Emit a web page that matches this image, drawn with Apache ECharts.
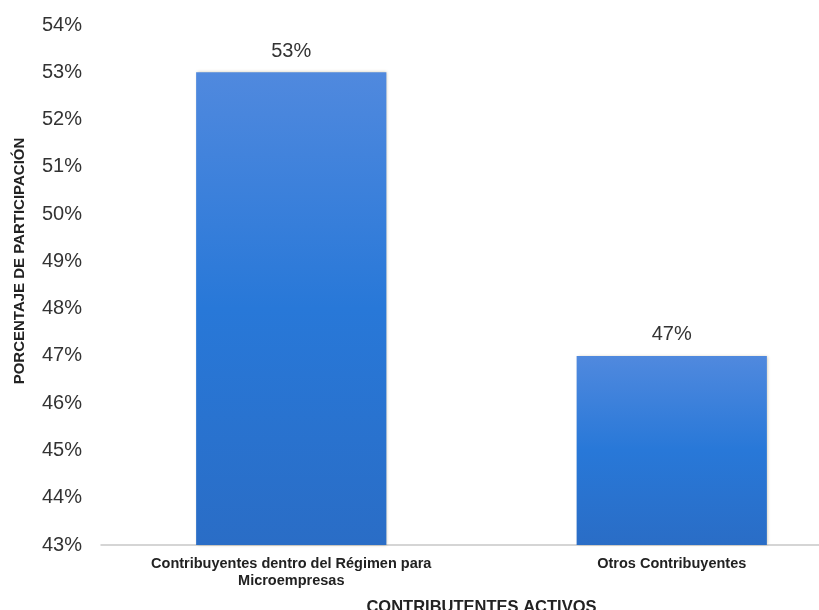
<!DOCTYPE html>
<html>
<head>
<meta charset="utf-8">
<script src="https://cdn.jsdelivr.net/npm/echarts@6/dist/echarts.min.js"></script>
<style>html,body{margin:0;padding:0;background:#fff}#c{width:819px;height:610px}</style>
</head>
<body>
<div id="c"></div>
<script>
const categories = ["Contribuyentes dentro del Régimen para\nMicroempresas", "Otros Contribuyentes"];
const values = [53, 47];
const yMin = 43, yMax = 54, yStep = 1;
const xTitle = "CONTRIBUTENTES ACTIVOS";
const yTitle = "PORCENTAJE DE PARTICIPACIÓN";

const chart = echarts.init(document.getElementById('c'), null, {renderer: 'canvas'});
chart.setOption({
  backgroundColor: '#fff',
  animation: false,
  grid: {left: 101, top: 25, right: -43, bottom: 65, containLabel: false, outerBoundsMode: 'none'},
  graphic: [{
    type: 'text',
    x: 20, y: 261,
    rotation: Math.PI / 2,
    style: {text: yTitle, fontFamily: 'Liberation Sans, Arial', fontWeight: 'bold', fontSize: 15, fill: '#222', align: 'center', verticalAlign: 'middle'}
  }],
  xAxis: {
    type: 'category',
    data: categories,
    name: xTitle,
    nameLocation: 'middle',
    nameGap: 54,
    nameTextStyle: {fontFamily: 'Liberation Sans, Arial', fontWeight: 'bold', fontSize: 16.5, color: '#222'},
    axisLine: {lineStyle: {color: '#c8c8c8', width: 1.5}},
    axisTick: {show: false},
    axisLabel: {fontFamily: 'Liberation Sans, Arial', fontWeight: 'bold', fontSize: 14.5, color: '#222', lineHeight: 17, margin: 10, interval: 0}
  },
  yAxis: {
    type: 'value',
    min: yMin, max: yMax, interval: yStep,
    axisLine: {show: false},
    axisTick: {show: false},
    splitLine: {show: false},
    axisLabel: {formatter: '{value}%', fontFamily: 'Liberation Sans, Arial', fontSize: 20, color: '#333', margin: 19}
  },
  series: [{
    type: 'bar',
    data: values,
    barWidth: '50%',
    itemStyle: {
      color: new echarts.graphic.LinearGradient(0, 0, 0, 1, [
        {offset: 0, color: '#5089de'},
        {offset: 0.5, color: '#2878d8'},
        {offset: 1, color: '#2a6dc6'}
      ]),
      shadowColor: 'rgba(120,100,40,0.35)',
      shadowBlur: 3,
      shadowOffsetX: 1,
      shadowOffsetY: 0
    },
    label: {show: true, position: 'top', distance: 11, formatter: '{c}%', fontFamily: 'Liberation Sans, Arial', fontSize: 20, color: '#333'}
  }]
});
</script>
</body>
</html>
